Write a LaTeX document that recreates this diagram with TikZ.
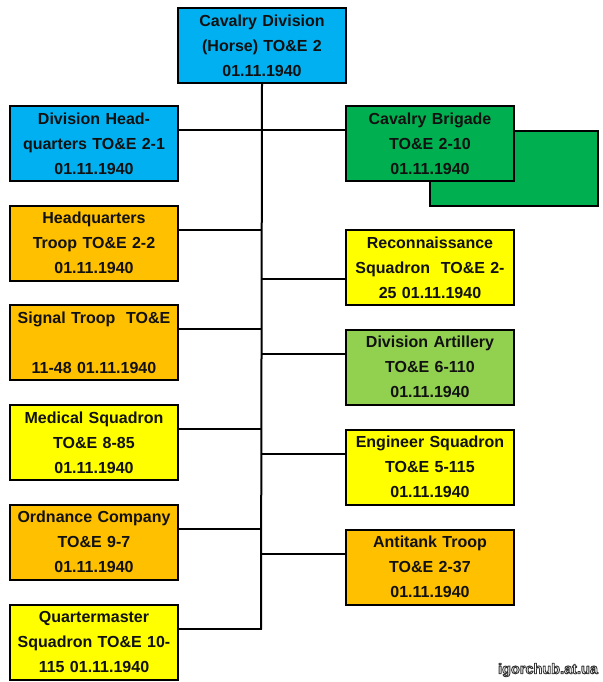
\documentclass[tikz,border=0pt]{standalone}
\usepackage{fontspec}
\setmainfont{Liberation Sans}
\usetikzlibrary{calc}
\definecolor{cblue}{HTML}{00B0F0}
\definecolor{corange}{HTML}{FFC000}
\definecolor{cyellow}{HTML}{FFFF00}
\definecolor{cgreen}{HTML}{00B050}
\definecolor{clgreen}{HTML}{92D050}
\definecolor{ctext}{HTML}{111111}
\newcommand{\outlinetext}[1]{\color{white}\special{pdf:literal direct 0.2 0.2 0.2 RG 2 Tr 0.9 w 1 j}#1\special{pdf:literal direct 0 Tr 0 0 0 RG}}
\begin{document}
\begin{tikzpicture}[x=1pt,y=-1pt,
  orgbox/.style={draw=black, line width=2pt, anchor=north west, minimum width=168pt, minimum height=75pt,
    inner sep=0pt, text width=166pt, align=center, text=ctext,
    font=\fontsize{16}{25}\selectfont\bfseries},
  link/.style={draw=black, line width=2pt}]
\useasboundingbox[fill=white] (0,0) rectangle (602,682);
% top
\node[orgbox, fill=cblue] (top) at (177,7) {Cavalry Division\\(Horse) TO\&E 2\\01.11.1940};
% left column
\node[orgbox, fill=cblue] (dhq) at (9,105) {Division Head-\\quarters TO\&E 2-1\\01.11.1940};
\node[orgbox, fill=corange] (hqt) at (9,204.5) {Headquarters\\Troop TO\&E 2-2\\01.11.1940};
\node[orgbox, fill=corange] (sig) at (9,304) {Signal Troop\ \ TO\&E\\\strut\\11-48 01.11.1940};
\node[orgbox, fill=cyellow] (med) at (9,404) {Medical Squadron\\TO\&E 8-85\\01.11.1940};
\node[orgbox, fill=corange] (ord) at (9,503.5) {Ordnance Company\\TO\&E 9-7\\01.11.1940};
\node[orgbox, fill=cyellow] (qm) at (9,603.5) {Quartermaster\\Squadron TO\&E 10-\\115 01.11.1940};
% right column
\node[orgbox, fill=cgreen] (shadow) at (429,130) {};
\node[orgbox, fill=cgreen] (cbr) at (345,105) {Cavalry Brigade\\TO\&E 2-10\\01.11.1940};
\node[orgbox, fill=cyellow] (rec) at (345,229) {Reconnaissance\\Squadron\ \ TO\&E 2-\\25 01.11.1940};
\node[orgbox, fill=clgreen] (art) at (345,328.5) {Division Artillery\\TO\&E 6-110\\01.11.1940};
\node[orgbox, fill=cyellow] (eng) at (345,428.5) {Engineer Squadron\\TO\&E 5-115\\01.11.1940};
\node[orgbox, fill=corange] (atk) at (345,528.5) {Antitank Troop\\TO\&E 2-37\\01.11.1940};
% connectors
\coordinate (spend) at (261,629);
\draw[link] (top.south) -- (spend);
\draw[link] ([yshift=-25pt]dhq.north east) -- ([yshift=-25pt]dhq.north east -| cbr.west);
\foreach \n in {hqt,sig,med,ord,qm}
  \draw[link] ([yshift=-25pt]\n.north east) -- ([yshift=-25pt]\n.north east -| top.south);
\draw[link] ([yshift=-50pt]rec.north west) -- ([yshift=-50pt]rec.north west -| top.south);
\foreach \n in {art,eng,atk}
  \draw[link] ([yshift=-25pt]\n.north west) -- ([yshift=-25pt]\n.north west -| top.south);
% watermark
\node[font=\fontsize{14.5}{15}\selectfont\bfseries, inner sep=0pt] (wm) at (548,670) {\outlinetext{igorchub.at.ua}};
\end{tikzpicture}
\end{document}
